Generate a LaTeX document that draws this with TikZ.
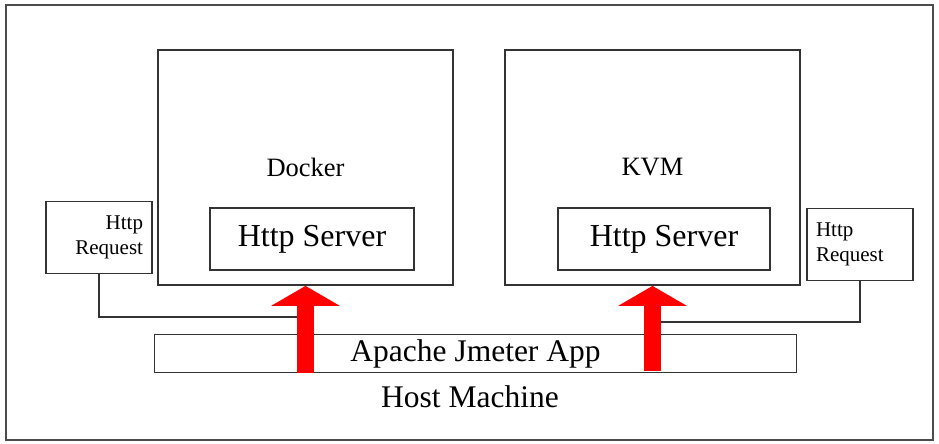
\documentclass[tikz,border=0pt]{standalone}
\usepackage{fontspec}
\setmainfont{Liberation Serif}
\usetikzlibrary{arrows.meta}

\begin{document}
\begin{tikzpicture}[x=1pt, y=-1pt,
rectHost/.style={rectangle, draw=black!70, line width=2.2pt, inner sep=0pt, minimum width=927pt, minimum height=435pt},
rectGuest/.style={rectangle, draw=black!80, line width=1.8pt, inner sep=0pt, minimum width=295pt, minimum height=235pt, font=\fontsize{26.5}{30}\selectfont},
rectServer/.style={rectangle, draw=black!80, line width=1.8pt, inner sep=0pt, minimum height=62pt, font=\fontsize{32}{36}\selectfont},
rectRequest/.style={rectangle, draw=black!80, line width=1.8pt, inner sep=0pt, minimum width=106pt, minimum height=72pt, text width=88pt, font=\fontsize{21}{25}\selectfont},
rectApp/.style={rectangle, draw=black!80, line width=1.8pt, inner sep=0pt, minimum width=642pt, minimum height=38pt, font=\fontsize{31.5}{36}\selectfont},
textHost/.style={font=\fontsize{31.5}{36}\selectfont},
line/.style={draw=black!80, line width=1.8pt},
bigArrow/.style={draw=red, line width=17pt, -{Triangle[width=68pt, length=20pt]}}
]
\useasboundingbox (0, 0) rectangle (939, 444);

\node[rectHost] (host) at (469.5, 222.5) {};

\node[rectGuest] (docker) at (305.5, 167.5) {Docker};
\node[rectGuest] (kvm) at (652.5, 167.5) {KVM};

\node[rectServer, minimum width=204pt] (serverDocker) at (312, 239) {\raisebox{-2pt}{Http Server}};
\node[rectServer, minimum width=212pt] (serverKvm) at (664, 239) {\raisebox{-2pt}{Http Server}};

\node[rectRequest, align=right] (requestLeft) at (99, 237.5) {Http\\Request};
\node[rectRequest, align=left] (requestRight) at (860, 244.5) {Http\\Request};

\node[rectApp] (jmeter) at (475.5, 353.5) {Apache Jmeter App};
\node[textHost] (hostLabel) at (470, 397) {Host Machine};

\coordinate (joinLeft) at (305, 317);
\coordinate (joinRight) at (653, 322);

\draw[line] (requestLeft.south) |- (joinLeft);
\draw[line] (requestRight.south) |- (joinRight);

\draw[bigArrow] (jmeter.south -| docker.south) -- (docker.south);
\draw[bigArrow] ([yshift=2pt]jmeter.south -| kvm.south) -- (kvm.south);

\end{tikzpicture}
\end{document}
